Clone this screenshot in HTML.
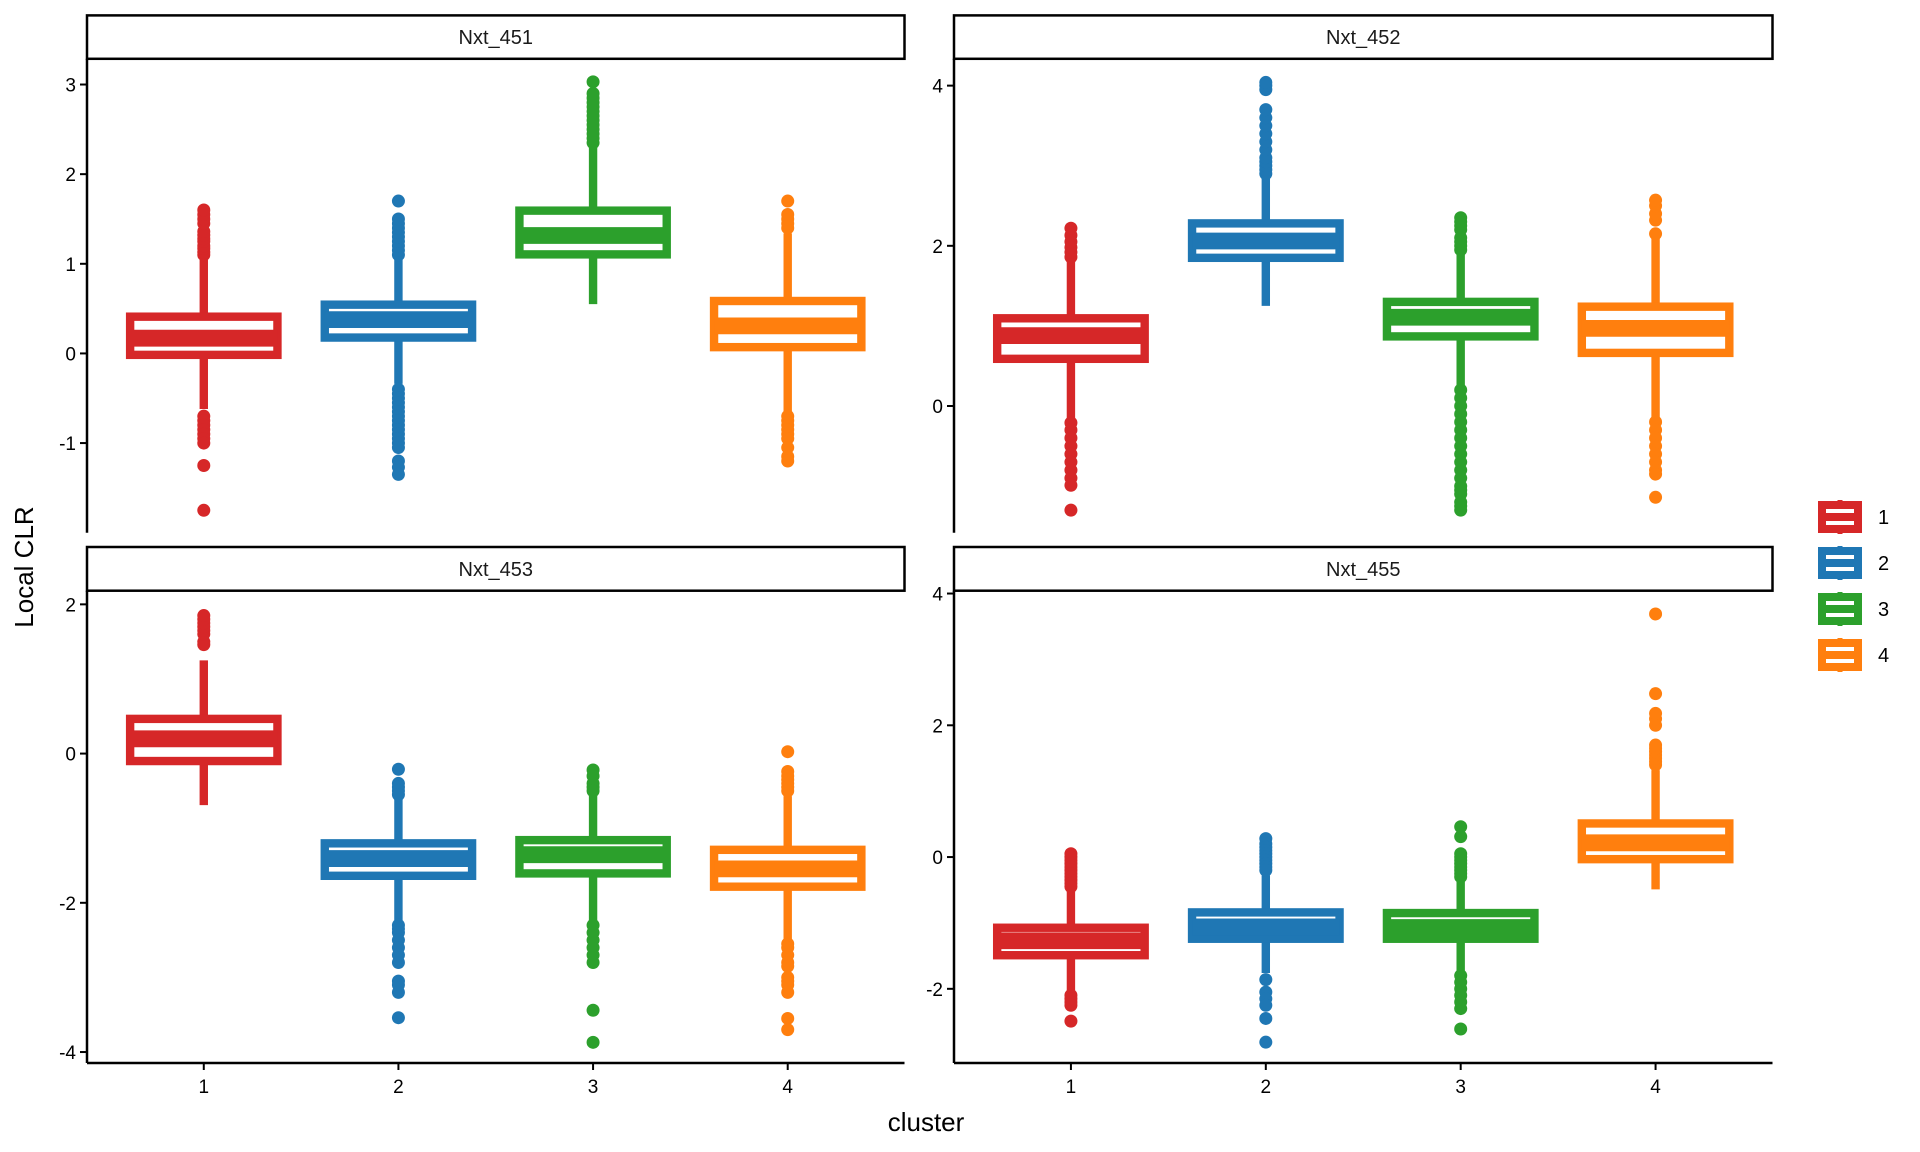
<!DOCTYPE html>
<html><head><meta charset="utf-8"><style>
html,body{margin:0;padding:0;background:#fff;}
svg{display:block;font-family:"Liberation Sans",sans-serif;}
</style></head><body>
<svg id="chart" width="1920" height="1152" viewBox="0 0 1920 1152" xmlns="http://www.w3.org/2000/svg">
<rect width="1920" height="1152" fill="#fff"/>
<text x="0" y="0" transform="translate(33,567) rotate(-90)" text-anchor="middle" font-size="26" fill="#000">Local CLR</text>
<text x="926" y="1131" text-anchor="middle" font-size="26" fill="#000">cluster</text>
<g id="legend"></g>
</svg>
<script>
const panelNames = ["Nxt_451","Nxt_452","Nxt_453","Nxt_455"];
const categories = ["1","2","3","4"];
const colors = ["#d62728","#1f77b4","#2ca02c","#ff7f0e"];
const yMin = [-2.00,-1.582,-4.147,-3.126];
const yMax = [3.287,4.335,2.183,4.043];
const yTicks = [[-1,0,1,2,3],[0,2,4],[-4,-2,0,2],[-2,0,2,4]];
const q1 = [[-0.016,0.177,1.105,0.07],[0.589,1.85,0.869,0.663],[-0.10,-1.638,-1.606,-1.784],[-1.49,-1.24,-1.24,-0.032]];
const med = [[0.17,0.377,1.316,0.307],[0.879,2.06,1.108,0.969],[0.198,-1.407,-1.355,-1.545],[-1.27,-1.06,-1.07,0.216]];
const q3 = [[0.41,0.544,1.593,0.585],[1.095,2.28,1.30,1.24],[0.465,-1.203,-1.16,-1.29],[-1.073,-0.84,-0.85,0.51]];
const wLo = [[-0.62,-0.34,0.55,-0.65],[-0.16,1.25,0.25,-0.16],[-0.69,-2.24,-2.24,-2.5],[-2.09,-1.76,-1.76,-0.49]];
const wHi = [[1.07,1.08,2.3,1.34],[1.86,2.89,1.95,2.1],[1.25,-0.6,-0.52,-0.57],[-0.52,-0.28,-0.34,1.32]];
const outliers = [
 [[1.1,1.13,1.17,1.2,1.25,1.28,1.32,1.36,1.45,1.5,1.55,1.6,-0.7,-0.75,-0.8,-0.85,-0.9,-0.95,-1.0,-1.25,-1.75],
  [1.1,1.15,1.2,1.25,1.3,1.35,1.4,1.45,1.5,1.7,-0.4,-0.45,-0.5,-0.55,-0.6,-0.65,-0.7,-0.75,-0.8,-0.85,-0.9,-0.95,-1.0,-1.05,-1.2,-1.27,-1.35],
  [2.35,2.4,2.45,2.5,2.55,2.6,2.65,2.7,2.75,2.8,2.85,2.9,3.03],
  [1.4,1.45,1.5,1.55,1.7,-0.7,-0.75,-0.8,-0.85,-0.9,-0.95,-1.05,-1.15,-1.2]],
 [[1.86,1.92,1.98,2.05,2.13,2.22,-0.21,-0.3,-0.4,-0.5,-0.6,-0.7,-0.8,-0.9,-0.99,-1.3],
  [2.9,2.95,3.0,3.05,3.1,3.2,3.3,3.4,3.5,3.6,3.7,3.95,4.0,4.04],
  [1.95,2.0,2.05,2.1,2.2,2.25,2.3,2.35,0.2,0.1,0,-0.1,-0.2,-0.3,-0.4,-0.5,-0.6,-0.7,-0.8,-0.9,-1.0,-1.05,-1.1,-1.2,-1.25,-1.3],
  [2.15,2.32,2.4,2.5,2.57,-0.2,-0.3,-0.4,-0.5,-0.6,-0.7,-0.8,-0.85,-1.14]],
 [[1.46,1.5,1.6,1.65,1.7,1.75,1.8,1.85],
  [-0.21,-0.4,-0.45,-0.5,-0.55,-2.3,-2.35,-2.4,-2.5,-2.6,-2.7,-2.8,-3.05,-3.1,-3.2,-3.54],
  [-0.22,-0.3,-0.4,-0.45,-0.5,-2.3,-2.4,-2.5,-2.6,-2.7,-2.8,-3.44,-3.87],
  [0.025,-0.24,-0.3,-0.35,-0.4,-0.45,-0.5,-2.55,-2.6,-2.7,-2.8,-2.85,-3.0,-3.05,-3.1,-3.2,-3.55,-3.7]],
 [[0.05,0,-0.05,-0.1,-0.15,-0.2,-0.25,-0.3,-0.35,-0.4,-0.45,-2.1,-2.15,-2.2,-2.25,-2.49],
  [0.28,0.2,0.15,0.1,0.05,0,-0.05,-0.1,-0.15,-0.2,-1.86,-2.05,-2.15,-2.25,-2.45,-2.81],
  [0.46,0.31,0.05,0,-0.05,-0.1,-0.15,-0.2,-0.25,-0.3,-1.8,-1.9,-2.0,-2.1,-2.2,-2.3,-2.61],
  [1.4,1.45,1.5,1.55,1.6,1.65,1.7,2.0,2.1,2.18,2.48,3.69]]
];

const NS = "http://www.w3.org/2000/svg";
const svg = document.getElementById("chart");
function mk(tag, attrs, parent){
  const e = document.createElementNS(NS, tag);
  for (const k in attrs) e.setAttribute(k, attrs[k]);
  (parent || svg).appendChild(e);
  return e;
}
const colL = [87, 954], colR = [904.5, 1772.5];
const rowT = [58.8, 590.7], rowB = [532.7, 1063];
const stripT = [15.4, 547];
const SW = 8.4;

panelNames.forEach((name, p) => {
  const col = p % 2, row = Math.floor(p / 2);
  const L = colL[col], R = colR[col], T = rowT[row], B = rowB[row];
  const g = mk("g", {});
  
  
  const xs = i => L + (i + 0.6) * (R - L) / 4.2;
  const bw = (R - L) / 4.2;
  const ys = v => B - (v - yMin[p]) / (yMax[p] - yMin[p]) * (B - T);

  const st = mk("rect", {x: L, y: stripT[row], width: R - L, height: T - stripT[row], fill: "#fff", stroke: "#000", "stroke-width": 2.5}, g);
  
  
  const stt = mk("text", {x: (L + R) / 2, y: (stripT[row] + T) / 2 + 7, "text-anchor": "middle", "font-size": 20, fill: "#1a1a1a"}, g);
  stt.textContent = name;
  
  

  const ya = mk("line", {x1: L, y1: T, x2: L, y2: B, stroke: "#000", "stroke-width": 2.5}, g);
  
  
  yTicks[p].forEach(t => {
    const tk = mk("line", {x1: L - 7, y1: ys(t), x2: L, y2: ys(t), stroke: "#000", "stroke-width": 2}, g);
    
    
    const tl = mk("text", {x: L - 11, y: ys(t) + 7, "text-anchor": "end", "font-size": 19, fill: "#000"}, g);
    tl.textContent = t;
    
    
  });
  if (row === 1) {
    const xa = mk("line", {x1: L, y1: B, x2: R, y2: B, stroke: "#000", "stroke-width": 2.5}, g);
    
    
    categories.forEach((c, i) => {
      const tk = mk("line", {x1: xs(i), y1: B, x2: xs(i), y2: B + 7, stroke: "#000", "stroke-width": 2}, g);
      
      
      const tl = mk("text", {x: xs(i), y: B + 30, "text-anchor": "middle", "font-size": 19, fill: "#000"}, g);
      tl.textContent = c;
      
      
    });
  }

  categories.forEach((c, i) => {
    const col_ = colors[i];
    const bg = mk("g", {}, g);
    
    
    const x = xs(i);
    mk("line", {x1: x, y1: ys(q3[p][i]), x2: x, y2: ys(wHi[p][i]), stroke: col_, "stroke-width": SW}, bg);
    mk("line", {x1: x, y1: ys(q1[p][i]), x2: x, y2: ys(wLo[p][i]), stroke: col_, "stroke-width": SW}, bg);
    const top = ys(q3[p][i]), bot = ys(q1[p][i]);
    mk("rect", {x: x - 0.4 * bw + SW / 2, y: top, width: 0.8 * bw - SW, height: bot - top, fill: "#fff", stroke: col_, "stroke-width": SW}, bg);
    mk("line", {x1: x - 0.4 * bw + SW / 2, y1: ys(med[p][i]), x2: x + 0.4 * bw - SW / 2, y2: ys(med[p][i]), stroke: col_, "stroke-width": SW * 2}, bg);
    outliers[p][i].forEach(v => {
      const pt = mk("circle", {cx: x, cy: ys(v), r: 6.5, fill: col_}, bg);
      
      
    });
  });
});

const legend = document.getElementById("legend");
const legendTop = [500, 546, 592, 638];
categories.forEach((c, i) => {
  const g = mk("g", {}, legend);
  
  
  const y0 = legendTop[i];
  mk("line", {x1: 1840, y1: y0, x2: 1840, y2: y0 + 34, stroke: colors[i], "stroke-width": 5}, g);
  mk("rect", {x: 1822, y: y0 + 5, width: 36, height: 24, fill: "#fff", stroke: colors[i], "stroke-width": 8}, g);
  mk("line", {x1: 1826, y1: y0 + 17, x2: 1854, y2: y0 + 17, stroke: colors[i], "stroke-width": 8}, g);
  const t = mk("text", {x: 1878, y: y0 + 24, "font-size": 20, fill: "#000"}, g);
  t.textContent = c;
});
</script>
</body></html>
